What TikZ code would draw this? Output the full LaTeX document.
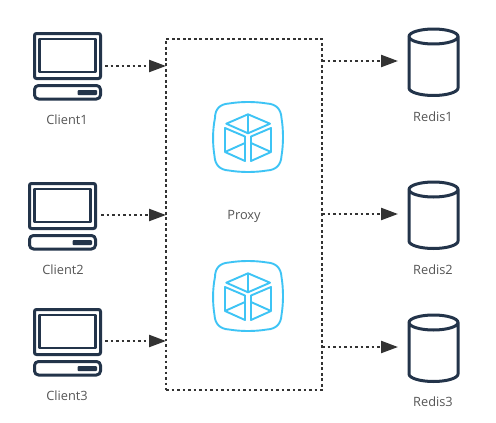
\documentclass[tikz,border=0pt]{standalone}
\usepackage{fontspec}
\setmainfont{Open Sans}
\usetikzlibrary{arrows.meta}
\definecolor{navy}{HTML}{23344A}
\definecolor{sky}{HTML}{3EC4F5}
\definecolor{ink}{HTML}{333333}
\definecolor{lab}{HTML}{555555}
\tikzset{
 lbl/.style={text=lab,font=\fontsize{12.8}{14}\selectfont,inner sep=0pt},
 dotline/.style={draw=ink,line width=2.2pt,dash pattern=on 2.6pt off 2.9pt},
 flow/.style={dotline,-{Triangle[length=17pt,width=12pt,fill=ink,sep=0pt]}},
 navyline/.style={draw=navy,line width=3pt,line join=round},
 skyline/.style={draw=sky,line width=1.9pt,line join=round},
 pics/client/.style={code={
  \draw[navyline,rounded corners=2pt] (1.5,1.5) rectangle (67.5,46.5);
  \draw[navyline,line width=2.4pt] (6.5,7) rectangle (62.5,40);
  \draw[navyline,rounded corners=4pt] (1.5,53.5) rectangle (67.5,67);
  \fill[navy,rounded corners=1pt] (44.5,58) rectangle (64,63);
 }},
 pics/db/.style={code={
  \draw[navyline] (0,8.5) arc[start angle=180,end angle=0,x radius=24.5,y radius=7.5]
     -- (49,60) arc[start angle=0,end angle=180,x radius=24.5,y radius=7.5] -- cycle;
  \draw[navyline] (0,8.5) arc[start angle=180,end angle=360,x radius=24.5,y radius=7.5];
 }},
 pics/cube/.style={code={
  \draw[skyline] (2,16) .. controls (2,7) and (7,2) .. (16,1.5)
     .. controls (28,-.5) and (42,-.5) .. (54,1.5)
     .. controls (63,2) and (68,7) .. (68.5,16)
     .. controls (70.5,28) and (70.5,42) .. (68.5,54)
     .. controls (68,63) and (63,68) .. (54,68.5)
     .. controls (42,70.5) and (28,70.5) .. (16,68.5)
     .. controls (7,68) and (2,63) .. (1.5,54)
     .. controls (-.5,42) and (-.5,28) .. (2,16) -- cycle;
  \draw[skyline] (35,12.3) -- (13.3,21.7) -- (35,31.3) -- (57,21.7) -- cycle (35,12.3) -- (35,31.3);
  \draw[skyline] (12,26) -- (32,34.5) -- (32,59) -- (12,50) -- cycle (12,50) -- (32,41);
  \draw[skyline] (38,34.5) -- (58,26) -- (58,50) -- (38,59) -- cycle (58,50) -- (38,41);
 }}
}
\begin{document}
\begin{tikzpicture}[x=1pt,y=-1pt]
\useasboundingbox (0,0) rectangle (496,423);
\fill[white] (0,0) rectangle (496,423);
% clients
\pic at (33,32) {client};
\pic at (28,182) {client};
\pic at (33,308) {client};
\coordinate (c1) at (105,66);
\coordinate (c2) at (101,215);
\coordinate (c3) at (105,341);
\node[lbl] (lc1) at (67,119.5) {Client1};
\node[lbl] (lc2) at (63,269.5) {Client2};
\node[lbl] (lc3) at (67,395.5) {Client3};
% proxy
\node[dotline,minimum width=156pt,minimum height=351pt,inner sep=0pt,outer sep=0pt,anchor=north west] (proxy) at (166,39) {};
\pic at (213,102) {cube};
\pic at (213,261) {cube};
\node[lbl] (lp) at (244,216.5) {Proxy};
% redis
\pic at (409,28) {db};
\pic at (409,181) {db};
\pic at (409,314) {db};
\coordinate (r1) at (398,61);
\coordinate (r2) at (398,214);
\coordinate (r3) at (398,347);
\node[lbl] (lr1) at (433,116.5) {Redis1};
\node[lbl] (lr2) at (433,269.5) {Redis2};
\node[lbl] (lr3) at (433,401.5) {Redis3};
% connectors
\draw[flow] (c1) -- (c1-|proxy.west);
\draw[flow] (c2) -- (c2-|proxy.west);
\draw[flow] (c3) -- (c3-|proxy.west);
\draw[flow] (r1-|proxy.east) -- (r1);
\draw[flow] (r2-|proxy.east) -- (r2);
\draw[flow] (r3-|proxy.east) -- (r3);
\end{tikzpicture}
\end{document}
